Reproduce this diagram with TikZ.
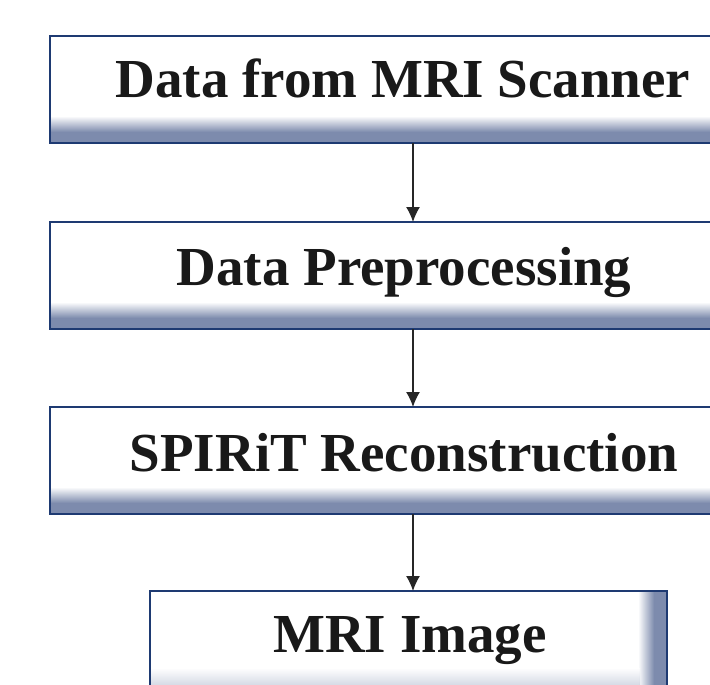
\documentclass[tikz,border=0pt]{standalone}
\usepackage{fontspec}
\setmainfont{Liberation Serif}
\begin{document}
\begin{tikzpicture}[x=1pt,y=-1pt,
  boxborder/.style={draw=boxnavy,line width=1.8pt},
  lbl/.style={anchor=base,inner sep=0pt,font=\fontsize{55}{60}\selectfont\bfseries,text=black!90},
  arr/.style={draw=black!85,line width=1.4pt,-{Latex[length=15pt,width=14pt]}}]
\usetikzlibrary{arrows.meta}
\definecolor{boxnavy}{HTML}{1E3A72}
\definecolor{slate}{HTML}{7D8BAD}
\useasboundingbox (0,0) rectangle (710,685);
\fill[white] (0,0) rectangle (710,685);
\foreach \t/\b/\n in {36/143/b1,222/329/b2,407/514/b3}{
  \fill[white] (50,\t) rectangle (730,\b);
  \shade[top color=white,bottom color=slate] (50,\b-27) rectangle (730,\b-11);
  \fill[slate] (50,\b-11) rectangle (730,\b);
  \draw[boxborder] (50,\t) rectangle (730,\b);
  \coordinate (\n top) at (413,\t);
  \coordinate (\n bot) at (413,\b);
}
\fill[white] (150,591) rectangle (667,700);
\shade[left color=white,right color=slate] (638,591) rectangle (654,700);
\fill[slate] (654,591) rectangle (667,700);
\shade[top color=white,bottom color=slate,opacity=0.6] (150,668) rectangle (640,700);
\draw[boxborder] (150,700) -- (150,591) -- (667,591) -- (667,700);
\coordinate (b4top) at (413,591);
\node[lbl] (t1) at (403,97) {Data from MRI Scanner};
\node[lbl] (t2) at (404,285) {Data Preprocessing};
\node[lbl] (t3) at (404,471) {SPIRiT Reconstruction};
\node[lbl] (t4) at (410,652) {MRI Image};
\draw[arr] (b1bot) -- (b2top);
\draw[arr] (b2bot) -- (b3top);
\draw[arr] (b3bot) -- (b4top);
\end{tikzpicture}
\end{document}
